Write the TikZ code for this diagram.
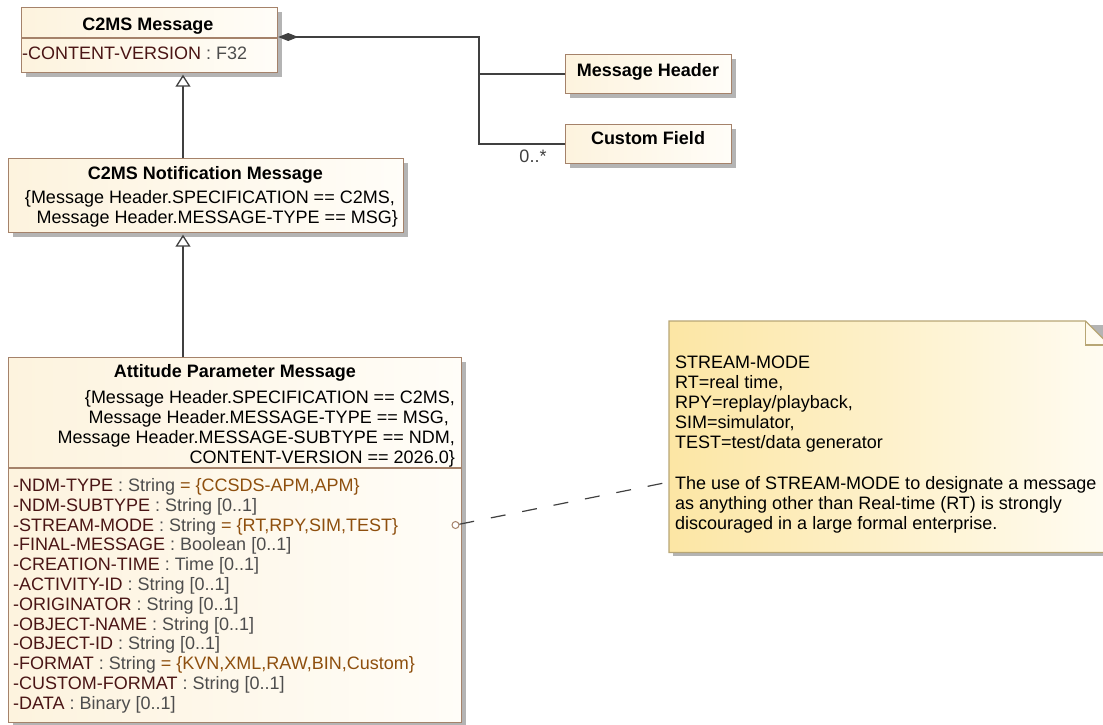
\documentclass[tikz,border=0pt]{standalone}
\usepackage{fontspec}
\setmainfont{Liberation Sans}
\usetikzlibrary{arrows.meta,shadows,calc}
\definecolor{boxline}{HTML}{A5826A}
\definecolor{boxfillA}{HTML}{FDF3DE}
\definecolor{boxfillB}{HTML}{FFFDF8}
\definecolor{aname}{HTML}{4A1515}
\definecolor{atype}{HTML}{4D4D4D}
\definecolor{aval}{HTML}{8E4F0E}
\definecolor{conncol}{HTML}{404040}
\definecolor{noteA}{HTML}{FCE6A4}
\definecolor{noteB}{HTML}{FFFCF2}
\definecolor{noteline}{HTML}{B8A675}
\definecolor{shadowc}{HTML}{B4B4B4}
\newcommand\attrrow[2]{\textcolor{aname}{-#1} \textcolor{atype}{: #2}}
\newcommand\attrval[3]{\textcolor{aname}{-#1} \textcolor{atype}{: #2} \textcolor{aval}{= #3}}
\begin{document}
\begin{tikzpicture}[x=1pt,y=-1pt,
  classbox/.style={draw=boxline, line width=1.2pt, left color=boxfillA, right color=boxfillB,
    inner sep=0pt, anchor=north west,
    drop shadow={shadow xshift=4pt, shadow yshift=-4pt, fill=shadowc, opacity=1}},
  txt/.style={font=\fontsize{18}{20}\selectfont, inner sep=0pt},
  ttl/.style={font=\fontsize{18}{20}\selectfont\bfseries, inner sep=0pt, anchor=base},
  attr/.style={txt, anchor=base west},
  cons/.style={txt, anchor=base east},
  connline/.style={draw=conncol, line width=1.3pt},
  divline/.style={draw=boxline, line width=1.2pt}
]
\useasboundingbox (0,0) rectangle (1103,724);

% class boxes
\node[classbox, minimum width=256, minimum height=65] (c2ms) at (21,7) {};
\node[classbox, minimum width=395, minimum height=74] (notif) at (8,158) {};
\node[classbox, minimum width=453, minimum height=365] (apm) at (8,357) {};
\node[classbox, minimum width=166, minimum height=39] (header) at (565,54) {};
\node[classbox, minimum width=166, minimum height=39] (custom) at (565,124) {};

% dividers
\draw[divline] (c2ms.west |- 0,38) -- (c2ms.east |- 0,38);
\draw[divline] (apm.west |- 0,468) -- (apm.east |- 0,468);

% C2MS Message
\node[ttl] (c2mst) at (148,30.5) {C2MS Message};
\node[attr] (c2msa) at (22,59.5) {\attrrow{CONTENT-VERSION}{F32}};

% Notification
\node[ttl] (notift) at (205.5,179.5) {C2MS Notification Message};
\node[cons] (notc1) at (395,203.5) {\{Message Header.SPECIFICATION == C2MS,};
\node[cons] (notc2) at (398,223.5) {Message Header.MESSAGE-TYPE == MSG\}};

% Attitude Parameter Message
\node[ttl] (apmt) at (235,377.5) {Attitude Parameter Message};
\node[cons] (apmc1) at (455,403.5) {\{Message Header.SPECIFICATION == C2MS,};
\node[cons] (apmc2) at (449,423.5) {Message Header.MESSAGE-TYPE == MSG,};
\node[cons] (apmc3) at (455,443.5) {Message Header.MESSAGE-SUBTYPE == NDM,};
\node[cons] (apmc4) at (455,463.5) {CONTENT-VERSION == 2026.0\}};

\node[attr] (a1)  at (13,491.5+0*19.8) {\attrval{NDM-TYPE}{String}{\{CCSDS-APM,APM\}}};
\node[attr] (a2)  at (13,491.5+1*19.8) {\attrrow{NDM-SUBTYPE}{String [0..1]}};
\node[attr] (a3)  at (13,491.5+2*19.8) {\attrval{STREAM-MODE}{String}{\{RT,RPY,SIM,TEST\}}};
\node[attr] (a4)  at (13,491.5+3*19.8) {\attrrow{FINAL-MESSAGE}{Boolean [0..1]}};
\node[attr] (a5)  at (13,491.5+4*19.8) {\attrrow{CREATION-TIME}{Time [0..1]}};
\node[attr] (a6)  at (13,491.5+5*19.8) {\attrrow{ACTIVITY-ID}{String [0..1]}};
\node[attr] (a7)  at (13,491.5+6*19.8) {\attrrow{ORIGINATOR}{String [0..1]}};
\node[attr] (a8)  at (13,491.5+7*19.8) {\attrrow{OBJECT-NAME}{String [0..1]}};
\node[attr] (a9)  at (13,491.5+8*19.8) {\attrrow{OBJECT-ID}{String [0..1]}};
\node[attr] (a10) at (13,491.5+9*19.8) {\attrval{FORMAT}{String}{\{KVN,XML,RAW,BIN,Custom\}}};
\node[attr] (a11) at (13,491.5+10*19.8) {\attrrow{CUSTOM-FORMAT}{String [0..1]}};
\node[attr] (a12) at (13,491.5+11*19.8) {\attrrow{DATA}{Binary [0..1]}};

% Header / Custom Field
\node[ttl] (headert) at (648,76.5) {Message Header};
\node[ttl] (customt) at (648,144.5) {Custom Field};

% composition
\coordinate (j) at (479,37);
\draw[connline, {Diamond[length=20pt,width=8pt]}-] (c2ms.east |- j) -- (j) |- (header.west);
\draw[connline] (j) |- (custom.west);
\node[txt, anchor=base, text=conncol] (mult) at (533,162.5) {0..*};

% generalizations
\coordinate (g) at (183,0);
\draw[connline, -{Triangle[length=12pt,width=15pt,fill=white]}, shorten >=1.5pt] (notif.north -| g) -- (c2ms.south -| g);
\draw[connline, -{Triangle[length=12pt,width=15pt,fill=white]}, shorten >=1.5pt] (apm.north -| g) -- (notif.south -| g);

% note
\node[inner sep=0pt, minimum width=440, minimum height=231, anchor=north west] (note) at (669,321) {};
\fill[shadowc] ($(note.north west)+(4,4)$) rectangle ($(note.south east)+(4,4)$);
\draw[noteline, line width=1.2pt, left color=noteA, right color=noteB]
  (note.north west) -- ($(note.north east)+(-24,0)$) -- ($(note.north east)+(0,24)$)
  -- (note.south east) -- (note.south west) -- cycle;
\draw[noteline, line width=1.2pt] ($(note.north east)+(-24,0)$) |- ($(note.north east)+(0,24)$);

\node[attr] (n1) at (675,368.5) {STREAM-MODE};
\node[attr] (n2) at (675,388.5) {RT=real time,};
\node[attr] (n3) at (675,408.5) {RPY=replay/playback,};
\node[attr] (n4) at (675,428.5) {SIM=simulator,};
\node[attr] (n5) at (675,448.5) {TEST=test/data generator};
\node[attr] (n6) at (675,489.5) {The use of STREAM-MODE to designate a message};
\node[attr] (n7) at (675,509.5) {as anything other than Real-time (RT) is strongly};
\node[attr] (n8) at (675,529.5) {discouraged in a large formal enterprise.};

% anchor link
\node[circle, draw=boxline, fill=white, line width=1pt, inner sep=0pt, minimum size=7] (pin) at (455.5,525) {};
\coordinate (nt) at (669,482);
\draw[draw=conncol, line width=1.2pt, dash pattern=on 15pt off 17pt] (pin) -- (nt);
\end{tikzpicture}
\end{document}
